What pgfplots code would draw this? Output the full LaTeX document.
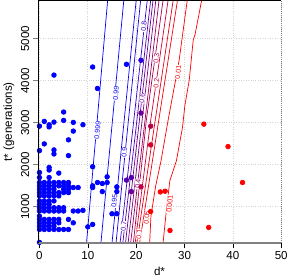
\documentclass[border=0pt]{standalone}
\usepackage{fontspec}
\setmainfont{Liberation Sans}
\usepackage{pgfplots}
\pgfplotsset{compat=1.18}
\pgfplotstableread{
d t
0 2918
1 3031
2 2900
2 2950
3 4134
3 3014
5 3254
5 3055
7 3007
7 2800
9 2952
6 2592
11 4326
12 3815
18 4391
0 2336
1 2496
3 2352
3 2256
6 2216
2 1935
2 1873
4 1800
11 1952
11 1496
11 1456
9 913
10 520
11 578
13 1552
13 1360
14 1576
14 1712
16 1472
16 1360
15 832
16 832
8 1456
12 1576
7 897
8 897
7 1456
7 616
0 1815
0 1695
0 1576
0 1496
0 1417
0 1336
0 1257
0 1137
0 1058
0 976
0 897
0 777
0 698
0 616
0 537
0 458
0 150
1 1576
1 1496
1 1417
1 1336
1 1257
1 1137
1 1058
1 976
1 897
1 698
1 616
1 537
1 458
2 1695
2 1576
2 1496
2 1417
2 1336
2 1257
2 1137
2 1058
2 976
2 897
2 698
2 616
2 537
2 458
3 1576
3 1496
3 1417
3 1336
3 1257
3 1137
3 976
3 897
3 698
3 616
3 537
3 458
4 1576
4 1496
4 1336
4 1257
4 976
4 897
4 698
4 616
4 458
5 1576
5 1496
5 1417
5 1336
5 976
5 897
5 458
6 1576
6 1496
6 1417
6 1336
6 698
6 458
}\bluedots
\begin{document}
\begin{tikzpicture}
\begin{axis}[
  scale only axis,
  width=241.6pt, height=241pt,
  xmin=-0.33, xmax=50, ymin=130, ymax=5910,
  xtick={0,10,...,50}, ytick={1000,2000,...,5000},
  /pgf/number format/assume math mode=true,
  /pgf/number format/1000 sep={},
  tick label style={font=\fontsize{11.5}{12}\selectfont},
  tick align=outside, major tick length=5pt,
  xtick pos=bottom, ytick pos=left,
  x tick style={black, line width=0.6pt},
  y tick style={gray, line width=1pt},
  axis line style={draw=none},
  grid=major, major grid style={gray!35, dotted, line width=0.7pt},
  yticklabel style={rotate=90, anchor=south},
  xlabel={d*}, ylabel={t* (generations)},
  label style={font=\fontsize{11.5}{12}\selectfont},
  after end axis/.code={
    \draw[gray, line width=1.6pt] (rel axis cs:0,0) -- (rel axis cs:1,0);
    \draw[gray, line width=1pt, dash pattern=on 1pt off 1pt] (rel axis cs:1,0) -- (rel axis cs:1,1);
    \draw[black, line width=0.6pt] (rel axis cs:0,0) -- (rel axis cs:0,1) -- (rel axis cs:1,1);
  },
  every axis plot/.append style={line width=0.7pt},
]
% contour lines
\addplot[no marks, color=red!0.1!blue] coordinates {(14.10,5910) (11.94,3055) (9.73,130)};
\addplot[no marks, color=red!1!blue] coordinates {(17.44,5910) (15.10,3055) (12.71,130)};
\addplot[no marks, color=red!5!blue] coordinates {(20.00,5910) (17.52,3055) (15.00,130)};
\addplot[no marks, color=red!10!blue] coordinates {(20.92,5910) (18.40,3055) (15.83,130)};
\addplot[no marks, color=red!20!blue] coordinates {(22.29,5910) (19.51,3055) (16.67,130)};
\addplot[no marks, color=red!30!blue] coordinates {(23.00,5910) (20.15,3055) (17.23,130)};
\addplot[no marks, color=red!40!blue] coordinates {(23.48,5910) (20.67,3055) (17.79,130)};
\addplot[no marks, color=red!50!blue] coordinates {(24.06,5910) (21.23,3055) (18.33,130)};
\addplot[no marks, color=red!60!blue] coordinates {(24.73,5910) (21.83,3055) (18.85,130)};
\addplot[no marks, color=red!70!blue] coordinates {(25.56,5910) (22.10,3055) (19.42,130)};
\addplot[no marks, color=red!80!blue] coordinates {(26.60,5910) (23.00,3055) (19.79,130)};
\addplot[no marks, color=red!90!blue] coordinates {(27.65,5910) (23.94,3055) (20.15,130)};
\addplot[no marks, color=red!95!blue] coordinates {(28.54,5910) (24.67,3055) (20.71,130)};
\addplot[no marks, color=red!99!blue] coordinates {(30.56,5910) (28.90,4494) (27.96,3894) (26.60,3055) (25.15,2096) (24.04,1496) (23.06,777) (22.79,130)};
\addplot[no marks, color=red!99.9!blue] coordinates {(33.54,5910) (32.17,5094) (31.81,4974) (30.98,4014) (30.08,3415) (29.58,2887) (28.33,2096) (26.96,1616) (26.13,777) (25.56,130)};
% contour labels
\begin{scope}[every node/.style={font=\fontsize{7}{7}\selectfont, rotate=85, fill=white, inner sep=0.3pt}]
\node[text=red!0.1!blue] at (axis cs:12.02,2815) {0.999};
\node[text=red!1!blue] at (axis cs:15.83,3695) {0.99};
\node[text=red!5!blue] at (axis cs:15.5,1137) {0.95};
\node[text=red!10!blue] at (axis cs:17.58,2295) {0.9};
\node[text=red!20!blue] at (axis cs:21.6,5285) {0.8};
\node[text=red!30!blue] at (axis cs:17.4,537) {0.7};
\node[text=red!40!blue] at (axis cs:21.25,3583) {0.6};
\node[text=red!60!blue] at (axis cs:20.35,1543) {0.4};
\node[text=red!70!blue] at (axis cs:24.17,4542) {0.3};
\node[text=red!80!blue] at (axis cs:24.17,3942) {0.2};
\node[text=red!90!blue] at (axis cs:20.6,345) {0.1};
\node[text=red!95!blue] at (axis cs:22.2,736) {0.05};
\node[text=red!99!blue] at (axis cs:28.69,4206) {0.01};
\node[text=red!99.9!blue] at (axis cs:26.96,1065) {0.001};
\end{scope}
% points
\addplot[only marks, mark=*, mark size=2.3pt, color=blue] table[x=d, y=t] {\bluedots};
\addplot[only marks, mark=*, mark size=2.3pt, color=red!15!blue] coordinates {(21,4487)};
\addplot[only marks, mark=*, mark size=2.3pt, color=red!32!blue] coordinates {(18,1633) (19,1695)};
\addplot[only marks, mark=*, mark size=2.3pt, color=red!42!blue] coordinates {(19,1360) (21,3230)};
\addplot[only marks, mark=*, mark size=2.3pt, color=red!72!blue] coordinates {(21,1472) (23,2918)};
\addplot[only marks, mark=*, mark size=2.3pt, color=red!82!blue] coordinates {(23,2472)};
\addplot[only marks, mark=*, mark size=2.3pt, color=red] coordinates {(23,885) (25,1352) (26,1369) (27,434) (35,506) (34,2966) (39,2432) (42,1576)};
\end{axis}
\end{tikzpicture}
\end{document}
